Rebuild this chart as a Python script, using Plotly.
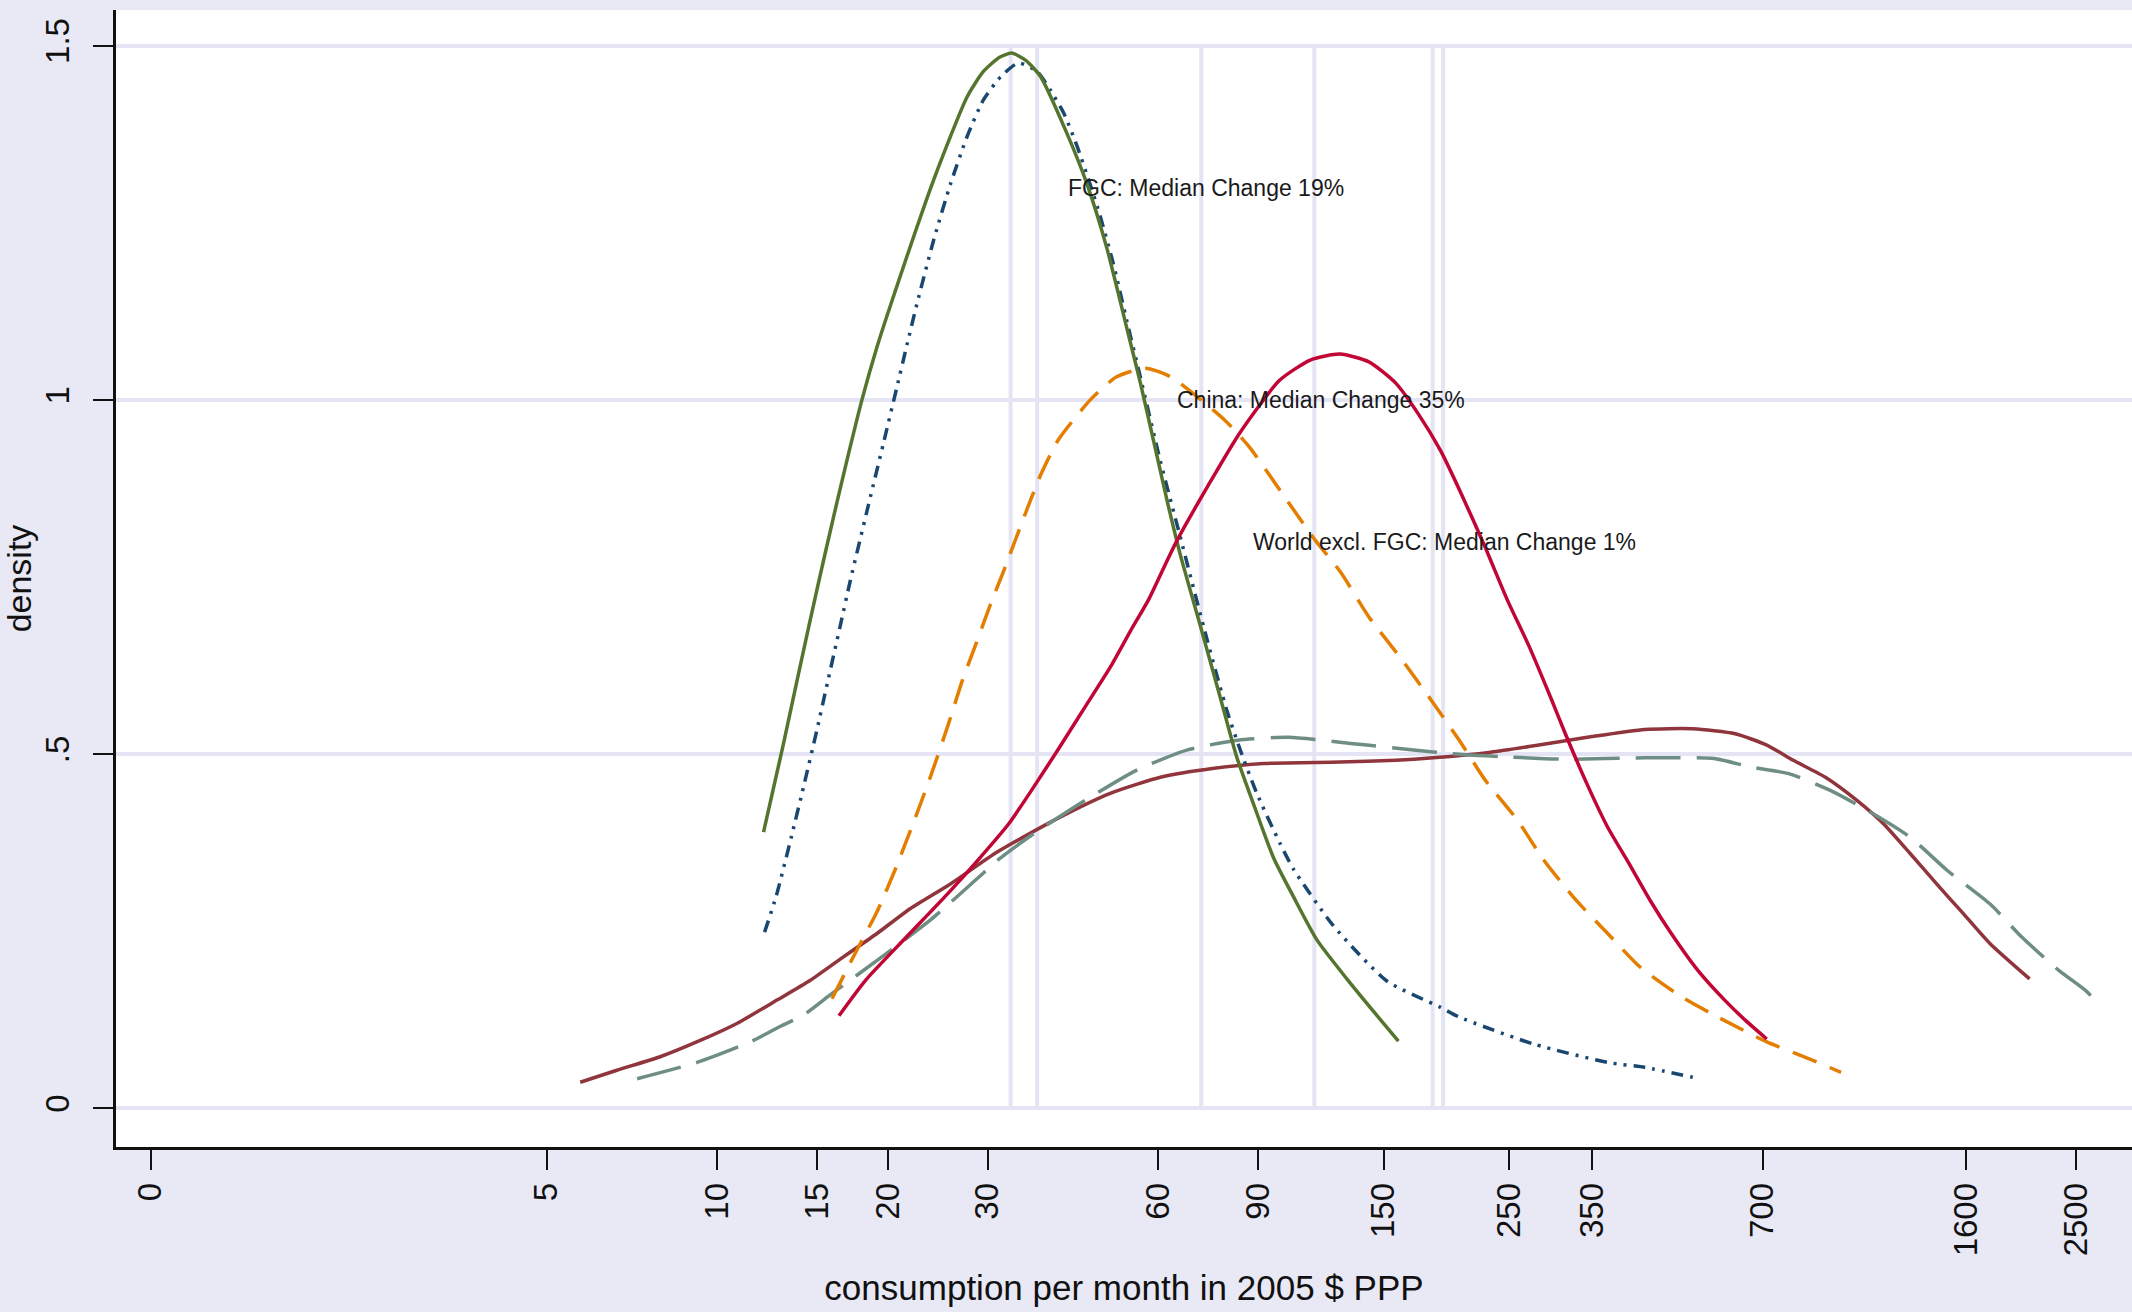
import math
import plotly.graph_objects as go

# Kernel density of consumption per month (2005 $ PPP); x = consumption, y = density
fgc_a_x = [12.07, 13.09, 14.01, 15.0, 16.04, 16.94, 18.0, 19.14, 20.34, 24.1, 27.6, 29.5,
           31.5, 33.1, 35.0, 37.2, 41.4, 44.9, 48.7, 52.9, 55.8, 59.0, 62.2, 65.6, 71.2,
           77.2, 82.6, 88.4, 95.9, 104, 114.4, 129.2, 144, 159.3]
fgc_a_y = [0.390, 0.515, 0.625, 0.733, 0.835, 0.915, 1.000, 1.075, 1.140, 1.311, 1.428, 1.464,
           1.484, 1.490, 1.480, 1.457, 1.377, 1.306, 1.215, 1.100, 1.025, 0.940, 0.859, 0.783, 0.682,
           0.581, 0.496, 0.430, 0.354, 0.299, 0.238, 0.183, 0.137, 0.095]

fgc_b_x = [12.12, 12.71, 13.53, 14.24, 15.0, 15.64, 16.47, 17.17, 18.37, 19.66, 20.75,
           21.62, 22.5, 24.1, 25.8, 27.6, 29.5, 31.6, 34.0, 36.7, 38.7, 40.9, 43.1, 45.5,
           47.4, 50.0, 52.9, 55.8, 60.5, 65.6, 73.2, 79.4, 83.8, 89.6, 98.5, 104, 122.3,
           152, 188.8, 204, 275.9, 373, 434, 527]
fgc_b_y = [0.249, 0.300, 0.385, 0.458, 0.535, 0.600, 0.680, 0.745, 0.843, 0.940, 1.018,
           1.078, 1.135, 1.226, 1.305, 1.372, 1.424, 1.456, 1.476, 1.464, 1.438, 1.405, 1.360, 1.305,
           1.260, 1.193, 1.110, 1.033, 0.915, 0.808, 0.662, 0.561, 0.506, 0.445, 0.374, 0.338, 0.258,
           0.180, 0.143, 0.129, 0.091, 0.065, 0.058, 0.044]

china_a_x = [15.94, 17.5, 19.2, 20.7, 22.5, 23.9, 25.5, 27.1, 28.5, 30.4, 32.0, 34.3, 37.2,
             40.0, 45.5, 50.7, 57.0, 63.1, 78.6, 86.9, 101.2, 113.7, 126, 141.3, 160.4,
             182.2, 204, 227, 258.5, 288, 328, 373, 425, 505, 600, 712, 846, 963]
china_a_y = [0.155, 0.2185, 0.280, 0.341, 0.416, 0.473, 0.539, 0.605, 0.652, 0.713, 0.758, 0.822, 0.894,
             0.944, 1.000, 1.033, 1.045, 1.033, 0.972, 0.934, 0.859, 0.802, 0.757, 0.694, 0.637,
             0.576, 0.520, 0.463, 0.407, 0.350, 0.294, 0.247, 0.200, 0.157, 0.124, 0.094, 0.070, 0.051]

china_b_x = [16.4, 18.27, 21.57, 25.5, 28.8, 32.7, 36.2, 40.2, 44.6, 49.4, 53.7, 57.7, 62.2,
             64.8, 73.6, 83.5, 98.3, 111.6, 125.6, 141.3, 157.6, 172.6, 189, 207, 226.5,
             248, 271.5, 297.3, 314, 342.5, 373, 406.6, 443, 483, 538, 600, 653.7, 712]
china_b_y = [0.131, 0.181, 0.242, 0.303, 0.350, 0.402, 0.454, 0.510, 0.567, 0.623, 0.675, 0.718, 0.773,
             0.802, 0.880, 0.953, 1.028, 1.057, 1.065, 1.054, 1.024, 0.981, 0.929, 0.863, 0.793,
             0.718, 0.651, 0.576, 0.529, 0.459, 0.397, 0.346, 0.294, 0.247, 0.195, 0.153, 0.124, 0.098]

world_a_x = [5.73, 6.65, 7.93, 9.33, 10.83, 12.75, 14.6, 16.7, 19.14, 21.9, 25.8, 31.2, 40.2,
             49.4, 60.8, 74.8, 92.1, 125.6, 157.8, 183.5, 232, 282, 350, 434, 527, 626, 712,
             793, 902, 1027, 1144, 1275, 1420, 1583, 1763, 2072]
world_a_y = [0.037, 0.054, 0.073, 0.096, 0.120, 0.153, 0.181, 0.214, 0.247, 0.282, 0.317, 0.362, 0.411,
             0.445, 0.468, 0.480, 0.487, 0.489, 0.4915, 0.495, 0.503, 0.513, 0.525, 0.535, 0.536, 0.529,
             0.513, 0.4915, 0.468, 0.435, 0.402, 0.360, 0.317, 0.275, 0.233, 0.183]

world_b_x = [7.22, 9.21, 11.44, 12.85, 14.2, 15.8, 19.5, 23.85, 28.8, 31.2, 36.2, 44.6, 54.8,
             67.4, 83.0, 102, 125.6, 140.2, 164.5, 204, 253, 314, 434, 574.5, 668, 776, 922,
             1097, 1275, 1483, 1763, 2007, 2333, 2597, 2742]
world_b_y = [0.042, 0.065, 0.094, 0.115, 0.132, 0.160, 0.2137, 0.267, 0.325, 0.350, 0.388, 0.435, 0.477,
             0.506, 0.520, 0.524, 0.517, 0.513, 0.507, 0.500, 0.496, 0.493, 0.495, 0.494, 0.482, 0.473, 0.449,
             0.416, 0.383, 0.336, 0.289, 0.242, 0.195, 0.167, 0.148]

# Medians of each distribution, drawn as vertical reference lines
median_values = [32.95, 36.7, 71.5, 113.2, 183.1, 191.1]

# Axis ticks
x_tick_values = [1, 5, 10, 15, 20, 30, 60, 90, 150, 250, 350, 700, 1600, 2500]
x_tick_labels = ["0", "5", "10", "15", "20", "30", "60", "90", "150", "250", "350", "700", "1600", "2500"]
y_tick_values = [0, 0.5, 1, 1.5]
y_tick_labels = ["0", ".5", "1", "1.5"]

# Text notes: (left x, y, text)
note_x = [41.3, 64.2, 87.4]
note_y = [1.3, 1.0, 0.8]
note_text = ["FGC: Median Change 19%", "China: Median Change 35%",
             "World excl. FGC: Median Change 1%"]

FONT = "Liberation Sans, Arial, sans-serif"
GRID = "#e4e4f4"
BG = "#e9e9f6"

fig = go.Figure()

for v in median_values:
    fig.add_trace(go.Scatter(x=[v, v], y=[0, 1.5], mode="lines",
                             line=dict(color=GRID, width=4), hoverinfo="skip",
                             showlegend=False))

series = [
    (world_a_x, world_a_y, "#90353b", "solid", 3.5, "World excl. FGC, 1"),
    (world_b_x, world_b_y, "#6e8e84", "45px,16px", 3.5, "World excl. FGC, 2"),
    (fgc_b_x, fgc_b_y, "#1a476f", "12px,7px,3px,7px,3px,7px", 3.5, "FGC, 2"),
    (fgc_a_x, fgc_a_y, "#55752f", "solid", 3.5, "FGC, 1"),
    (china_a_x, china_a_y, "#e37e00", "26px,14px", 3.5, "China, 1"),
    (china_b_x, china_b_y, "#c10534", "solid", 3.5, "China, 2"),
]
for xs, ys, col, dash, w, name in series:
    fig.add_trace(go.Scatter(x=xs, y=ys, mode="lines", name=name,
                             line=dict(color=col, width=w, dash=dash, shape="spline",
                                       smoothing=0.6),
                             showlegend=False))

for nx, ny, nt in zip(note_x, note_y, note_text):
    fig.add_annotation(x=math.log10(nx), y=ny, xref="x", yref="y", text=nt,
                       showarrow=False, xanchor="left", yanchor="middle",
                       font=dict(family=FONT, size=23, color="#1a1a1a"))

x_left = math.exp((115.6 - 150.3) / 246.1)
x_right = math.exp((2132 - 150.3) / 246.1)

fig.update_layout(
    width=2132, height=1312,
    margin=dict(l=116, r=0, t=10, b=165),
    paper_bgcolor=BG, plot_bgcolor="white",
    font=dict(family=FONT, color="#111111"),
    showlegend=False,
    xaxis=dict(
        type="log", range=[math.log10(x_left), math.log10(x_right)],
        tickmode="array", tickvals=x_tick_values, ticktext=x_tick_labels,
        tickangle=-90, tickfont=dict(size=33, family=FONT, color="#111111"),
        ticks="outside", ticklen=20, tickwidth=2, tickcolor="#111111",
        showline=True, linecolor="#111111", linewidth=2.5,
        showgrid=False, zeroline=False,
        title=dict(text="consumption per month in 2005 $ PPP",
                   font=dict(size=35, family=FONT, color="#111111"), standoff=21),
    ),
    yaxis=dict(
        range=[-0.0544, 1.5508],
        tickmode="array", tickvals=y_tick_values, ticktext=y_tick_labels,
        tickangle=-90, tickfont=dict(size=33, family=FONT, color="#111111"),
        ticks="outside", ticklen=20, tickwidth=2, tickcolor="#111111",
        ticklabelstandoff=11,
        showline=True, linecolor="#111111", linewidth=2.5,
        showgrid=True, gridcolor=GRID, gridwidth=4, zeroline=False,
        title=dict(text="density", font=dict(size=34, family=FONT, color="#111111"),
                   standoff=0),
    ),
)

fig.write_html("out.html")
